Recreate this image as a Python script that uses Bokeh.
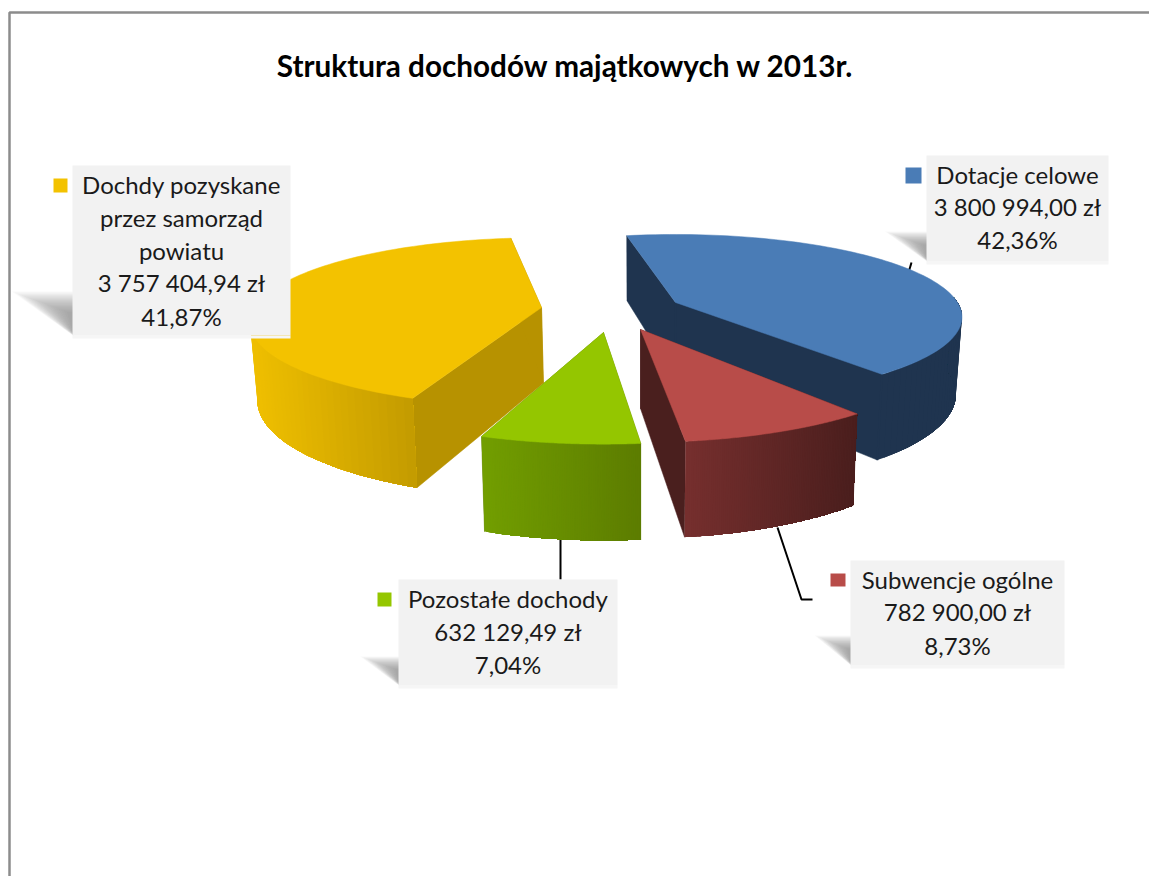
import numpy as np
from bokeh.plotting import figure
from bokeh.models import Range1d
from bokeh.core.properties import value
from bokeh.embed import file_html
from bokeh.resources import INLINE

# ---- data ----
categories = ["Dotacje celowe", "Subwencje ogólne", "Pozostałe dochody", "Dochdy pozyskane przez samorząd powiatu"]
values = [3800994.00, 782900.00, 632129.49, 3757404.94]
title = "Struktura dochodów majątkowych w 2013r."
label_lines = [
    ["Dotacje celowe", "3 800 994,00 zł", "42,36%"],
    ["Subwencje ogólne", "782 900,00 zł", "8,73%"],
    ["Pozostałe dochody", "632 129,49 zł", "7,04%"],
    ["Dochdy pozyskane", "przez samorząd", "powiatu", "3 757 404,94 zł", "41,87%"],
]

# ---- style / layout ----
top_col = ["#4A7CB6", "#B84C49", "#94C600", "#F3C200"]
face_col = ["#1F344F", "#4A1F1E", "#5E7F00", "#B79200"]
wall_l = ["#1F344F", "#762F2E", "#729E00", "#EFBF00"]
wall_r = ["#1F344F", "#4A1E1D", "#5C7C00", "#C29A00"]
# tip x, tip y, rx, ry, angular offset (per exploded slice)
geom = [(675, 302, 282, 80, 0.0), (640, 329, 300, 93, 0.7), (603, 332, 304, 92, 2.0), (541, 307, 287, 82, 4.5)]
start_angle = -11.7
persp = 0.176
boxes = [(926, 1108, 155, 261), (850, 1064, 560, 665), (398, 617, 579, 685), (72, 290, 165, 335)]
keys = [(905, 921, 167, 183), (830, 845, 573, 586), (377, 391, 592, 606), (53, 67, 178, 192)]
line_y = [[174, 206, 239], [579, 611, 645], [598, 631, 664], [184, 217, 250, 282, 316]]
shadow = [(37, 233), (32, 637), (34, 658), (54, 293)]
draw_order = [0, 3, 1, 2]

p = figure(width=1149, height=876, x_range=Range1d(0, 1149), y_range=Range1d(876, 0),
           x_axis_type=None, y_axis_type=None, toolbar_location=None, output_backend="svg",
           min_border=0, outline_line_color=None, background_fill_color="white", border_fill_color="white")
p.xgrid.visible = False
p.ygrid.visible = False

# chart border
p.line([9, 9, 1149], [876, 12, 12], line_color="#8C8C8C", line_width=2.5)


def bottom(x, y):
    return x + 0.019 * (640 - x), y + 65 + 0.15 * (y - 235)


def rim(i, th):
    cx, cy, rx, ry, off = geom[i]
    t = np.radians(np.asarray(th, float) + off)
    w = 1 + persp * np.cos(t)
    return cx + rx * np.sin(t) / w, cy - ry * np.cos(t) / w


def lerp_col(a, b, f):
    ca = [int(a[k:k + 2], 16) for k in (1, 3, 5)]
    cb = [int(b[k:k + 2], 16) for k in (1, 3, 5)]
    return "#%02x%02x%02x" % tuple(int(round(u + (v - u) * f)) for u, v in zip(ca, cb))


# leader lines, behind the pie
p.line([560, 560], [538, 579], line_color="black", line_width=2)
p.line([777, 801, 812], [527, 599, 599], line_color="black", line_width=2)
p.line([911, 908], [262, 272], line_color="black", line_width=2)

shares = np.array(values) / sum(values) * 360.0
edges = start_angle + np.concatenate([[0], np.cumsum(shares)])

for i in draw_order:
    th = np.linspace(edges[i], edges[i + 1], 90)
    x, y = rim(i, th)
    cx, cy = geom[i][0], geom[i][1]
    bx, by = bottom(x, y)
    tbx, tby = bottom(cx, cy)
    # radial faces
    for j in (0, -1):
        p.patch([cx, x[j], bx[j], tbx], [cy, y[j], by[j], tby], fill_color=face_col[i], fill_alpha=1.0,
                line_color=face_col[i], line_width=0.5)
    # outer wall: only the part facing the viewer, painted left to right in overlapping bands
    front = np.cos(np.radians(th + geom[i][4])) < 0.1
    idx = np.where(front)[0]
    if x[idx[0]] > x[idx[-1]]:
        idx = idx[::-1]
    x0, x1 = x[idx].min(), x[idx].max()
    for k in range(0, len(idx) - 1):
        rest = idx[k:]
        p.patch(np.r_[x[rest], bx[rest][::-1]], np.r_[y[rest], by[rest][::-1]],
                fill_color=lerp_col(wall_l[i], wall_r[i], (x[idx[k]] - x0) / (x1 - x0)),
                fill_alpha=1.0, line_color=None)
    # the flat-shaded slice has no visible creases between its wall and faces
    if wall_l[i] == wall_r[i]:
        for sx, sy, ex, ey in ((cx, cy, tbx, tby), (x[-1], y[-1], bx[-1], by[-1]), (cx, cy, x[-1], y[-1])):
            p.line([sx, ex], [sy, ey], line_color=face_col[i], line_width=2)
    # top
    p.patch(np.r_[cx, x], np.r_[cy, y], fill_color=top_col[i], fill_alpha=1.0, line_color=top_col[i], line_width=0.5)

# label boxes, shadows, keys, texts
for i in range(4):
    L, R, T, B = boxes[i]
    w, y1 = shadow[i]
    H = B - 2 - y1
    for t in np.linspace(1.12, 0.1, 20):
        top_edge = y1 - 2 + H * (1.12 - t) * 0.5
        p.patch([L + 1, L - w * t, L + 1], [top_edge, top_edge, B - 1 + 2 * (t - 0.5)],
                fill_color="#707070", fill_alpha=0.045, line_color=None)
    p.quad(left=[L], right=[R], top=[B], bottom=[B + 3], fill_color="#F6F6F6", fill_alpha=1.0, line_color=None)
    p.quad(left=[L], right=[R], top=[T], bottom=[B], fill_color="#F2F2F2", fill_alpha=1.0, line_color=None)
    k = keys[i]
    p.quad(left=[k[0]], right=[k[1]], top=[k[2]], bottom=[k[3]], fill_color=top_col[i], fill_alpha=1.0, line_color=None)
    p.text(x=[(L + R) / 2] * len(label_lines[i]), y=line_y[i], text=label_lines[i],
           text_font=value("Lato"), text_font_size="24px", text_color="#1A1A1A",
           text_align="center", text_baseline="middle")

p.text(x=[565], y=[65], text=[title], text_font=value("Lato"), text_font_size="29.7px",
       text_font_style="bold", text_color="black", text_align="center", text_baseline="middle")

open("out.html", "w").write(file_html(p, INLINE))
